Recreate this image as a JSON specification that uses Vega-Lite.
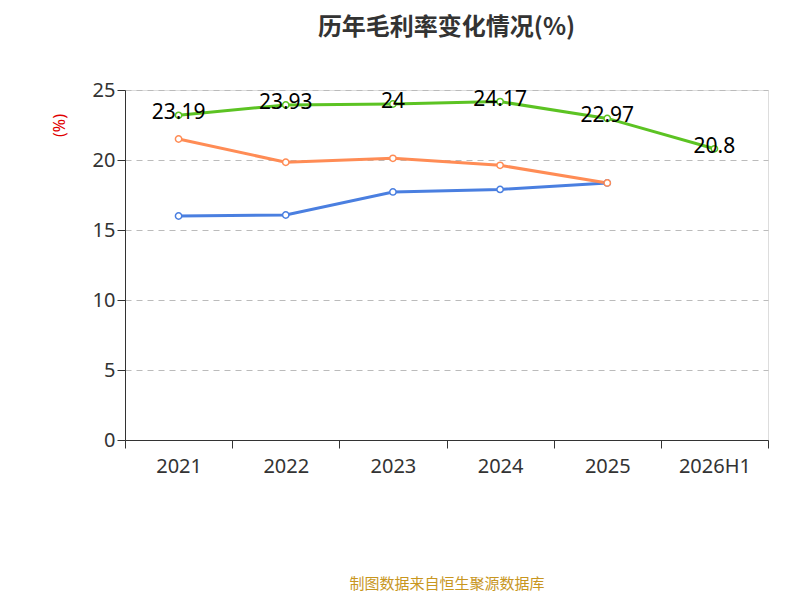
{
  "$schema": "https://vega.github.io/schema/vega-lite/v6.json",
  "autosize": "none",
  "width": 643,
  "height": 350,
  "padding": {"left": 125, "top": 90, "right": 32, "bottom": 160},
  "background": "white",
  "config": {"font": "Noto Sans"},
  "title": {"text": "历年毛利率变化情况(%)", "fontSize": 24, "fontWeight": "bold", "color": "#333", "offset": 40, "font": "Noto Sans CJK SC"},
  "data": {"values": [
    {"year": "2021", "series": "公司毛利率", "v": 23.19},
    {"year": "2022", "series": "公司毛利率", "v": 23.93},
    {"year": "2023", "series": "公司毛利率", "v": 24},
    {"year": "2024", "series": "公司毛利率", "v": 24.17},
    {"year": "2025", "series": "公司毛利率", "v": 22.97},
    {"year": "2026H1", "series": "公司毛利率", "v": 20.8},
    {"year": "2021", "series": "行业均值", "v": 16.0},
    {"year": "2022", "series": "行业均值", "v": 16.07},
    {"year": "2023", "series": "行业均值", "v": 17.72},
    {"year": "2024", "series": "行业均值", "v": 17.9},
    {"year": "2025", "series": "行业均值", "v": 18.36},
    {"year": "2021", "series": "行业中位数", "v": 21.5},
    {"year": "2022", "series": "行业中位数", "v": 19.84},
    {"year": "2023", "series": "行业中位数", "v": 20.12},
    {"year": "2024", "series": "行业中位数", "v": 19.62},
    {"year": "2025", "series": "行业中位数", "v": 18.36}
  ]},
  "encoding": {
    "x": {"field": "year", "type": "nominal", "sort": null,
      "axis": {"title": "制图数据来自恒生聚源数据库", "titleColor": "#c8961e", "titleFontSize": 15, "titleFontWeight": "normal", "titleFont": "Noto Sans CJK SC", "titlePadding": 100,
        "labelAngle": 0, "labelFontSize": 20, "labelColor": "#333", "tickBand": "extent", "domainColor": "#333", "tickColor": "#333", "tickSize": 8, "labelPadding": 8}},
    "y": {"field": "v", "type": "quantitative", "scale": {"domain": [0, 25]},
      "axis": {"values": [0, 5, 10, 15, 20, 25], "title": "(%)", "titleColor": "#e00000", "titleFontSize": 16, "titleFontWeight": "normal", "titleAngle": -90, "titleX": -58, "titleY": 35, "titleAlign": "center",
        "labelFontSize": 20, "labelColor": "#333", "gridDash": [6, 5], "gridColor": "#bbb", "domainColor": "#333", "tickColor": "#333", "tickSize": 8}}
  },
  "layer": [
    {"mark": {"type": "line", "strokeWidth": 3},
      "encoding": {"color": {"field": "series", "type": "nominal", "legend": null,
        "scale": {"domain": ["公司毛利率", "行业均值", "行业中位数"], "range": ["#5cc323", "#4a7fe0", "#ff8c55"]}}}},
    {"mark": {"type": "point", "filled": false, "fill": "white", "fillOpacity": 1, "size": 40, "strokeWidth": 1.5, "opacity": 1},
      "encoding": {"stroke": {"field": "series", "type": "nominal",
        "scale": {"domain": ["公司毛利率", "行业均值", "行业中位数"], "range": ["#5cc323", "#4a7fe0", "#ff8c55"]},
        "legend": {"title": null, "orient": "none", "direction": "horizontal", "legendX": -5, "legendY": 437, "labelFontSize": 22, "labelColor": "#333", "labelFont": "Noto Sans CJK SC",
          "symbolType": "M -1 0 L -0.45 0 M 0.45 0 L 1 0 M 0.45 0 A 0.45 0.45 0 1 1 -0.45 0 A 0.45 0.45 0 1 1 0.45 0", "symbolSize": 900, "symbolFillColor": "white", "symbolStrokeWidth": 2, "columnPadding": 22, "labelOffset": 8}}}},
    {"transform": [{"filter": "datum.series === '公司毛利率'"}],
      "mark": {"type": "text", "fontSize": 21, "color": "black", "dy": -2},
      "encoding": {"text": {"field": "v"}}}
  ]
}
